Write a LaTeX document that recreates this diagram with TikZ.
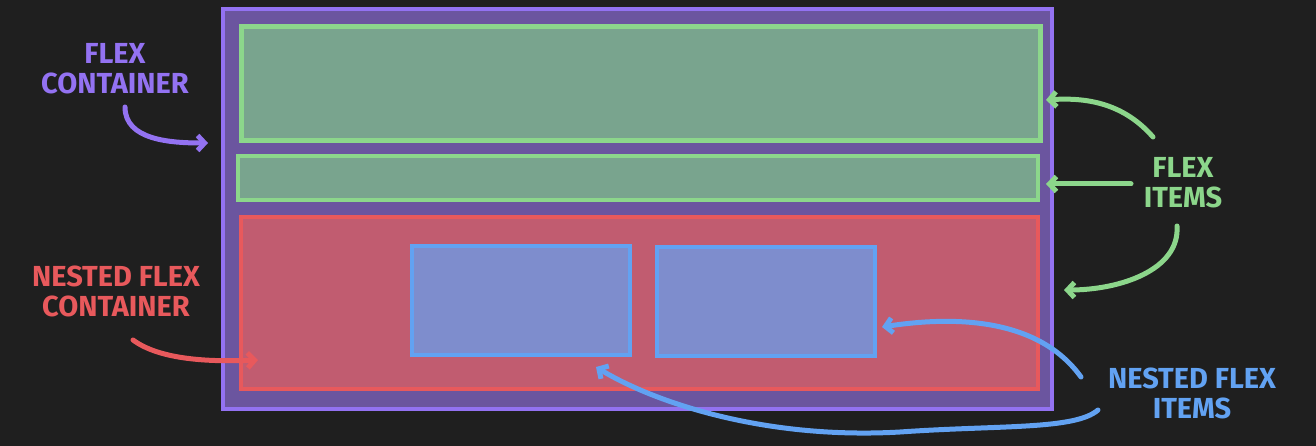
\documentclass[tikz,border=0pt]{standalone}
\usepackage{fontspec}
\setmainfont{Fira Sans}
\usetikzlibrary{arrows.meta}
\definecolor{bg}{HTML}{1F1F1F}
\definecolor{pline}{HTML}{9372F2}
\definecolor{pfill}{HTML}{6B559F}
\definecolor{gline}{HTML}{8CD68B}
\definecolor{gfill}{HTML}{79A48E}
\definecolor{rline}{HTML}{E8595C}
\definecolor{rfill}{HTML}{C15C70}
\definecolor{bline}{HTML}{62A2F2}
\definecolor{bfill}{HTML}{7E8DCD}
\tikzset{
  box/.style={draw, inner sep=0pt, outer sep=0pt},
  lbl/.style={align=center, font=\fontsize{29}{30}\selectfont\bfseries, inner sep=0pt},
  arr/.style={line width=5pt, line cap=round, line join=round, -{Straight Barb[length=7pt,width=15pt,line width=5pt]}}
}
\begin{document}
\begin{tikzpicture}[x=1pt,y=-1pt]
\fill[bg] (0,0) rectangle (1316,446);
\useasboundingbox (0,0) rectangle (1316,446);
% boxes
\node[box, line width=4pt, draw=pline, fill=pfill, minimum width=829pt, minimum height=400pt] (outer) at (637.5,209) {};
\node[box, line width=4.5pt, draw=gline, fill=gfill, minimum width=799pt, minimum height=114pt] (g1) at (641,83.5) {};
\node[box, line width=4.5pt, draw=gline, fill=gfill, minimum width=800pt, minimum height=44pt] (g2) at (638,178) {};
\node[box, line width=3.5pt, draw=rline, fill=rfill, minimum width=797pt, minimum height=172pt] (red) at (639.5,303) {};
\node[box, line width=4pt, draw=bline, fill=bfill, minimum width=218pt, minimum height=109pt] (b1) at (521,300.5) {};
\node[box, line width=4pt, draw=bline, fill=bfill, minimum width=218pt, minimum height=109pt] (b2) at (766,301.5) {};
% labels
\node[lbl, text=pline] (lfc) at (115,69) {FLEX\\CONTAINER};
\node[lbl, text=rline] (lnfc) at (116,291) {NESTED FLEX\\CONTAINER};
\node[lbl, text=gline] (lfi) at (1183,183) {FLEX\\ITEMS};
\node[lbl, text=bline] (lnfi) at (1192,393) {NESTED FLEX\\ITEMS};
% arrow endpoints
\coordinate (p1) at (125,107); \coordinate (p2) at (208,143);
\coordinate (r1) at (133,340); \coordinate (r2) at (258,360);
\coordinate (ga1) at (1153,137); \coordinate (ga2) at (1046,100);
\coordinate (gb1) at (1131,184); \coordinate (gb2) at (1046,184);
\coordinate (gc1) at (1177,226); \coordinate (gc2) at (1064,290);
\coordinate (ba1) at (1081,377); \coordinate (ba2) at (882,327);
\coordinate (bb1) at (1098,410); \coordinate (bbm) at (900,432); \coordinate (bb2) at (596,367);
% arrows
\draw[arr, pline] (p1) .. controls (125,140) and (170,143) .. (p2);
\draw[arr, rline] (r1) .. controls (160,360) and (210,362) .. (r2);
\draw[arr, gline] (ga1) .. controls (1125,105) and (1090,97) .. (ga2);
\draw[arr, gline] (gb1) -- (gb2);
\draw[arr, gline] (gc1) .. controls (1180,270) and (1120,290) .. (gc2);
\draw[arr, bline] (ba1) .. controls (1040,320) and (960,315) .. (ba2);
\draw[arr, bline] (bb1) .. controls (1075,430) and (1000,425) .. (bbm) .. controls (760,440) and (650,400) .. (bb2);
\end{tikzpicture}
\end{document}
